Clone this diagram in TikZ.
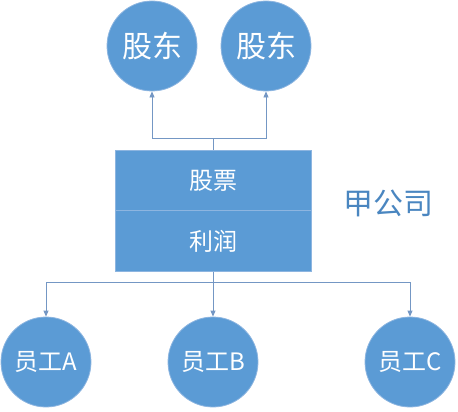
\documentclass[tikz,border=0pt]{standalone}
\usepackage{fontspec}
\setmainfont{Noto Sans CJK SC}
\usetikzlibrary{arrows.meta}
\definecolor{fillblue}{HTML}{5B9BD5}
\definecolor{rimblue}{HTML}{8DB5E0}
\definecolor{linkblue}{HTML}{7497C4}
\definecolor{labelblue}{HTML}{4A86C0}
\tikzset{
  pers/.style={circle, fill=fillblue, draw=rimblue, line width=0.8pt, minimum size=90pt, inner sep=0pt, text=white},
  link/.style={draw=linkblue, line width=0.8pt},
  arr/.style={link, -{Triangle[length=6pt,width=5pt]}},
  cell/.style={rectangle, fill=fillblue, draw=rimblue, line width=0.6pt, minimum width=196pt, minimum height=60.5pt, inner sep=0pt, text=white, font=\fontsize{24}{27}\selectfont}
}
\begin{document}
\begin{tikzpicture}[x=1pt,y=-1pt]
\useasboundingbox (0,0) rectangle (458,412);
% top shareholders
\node[pers, font=\fontsize{30}{33}\selectfont] (s1) at (152,46) {股东};
\node[pers, font=\fontsize{30}{33}\selectfont] (s2) at (266,46) {股东};
% company box
\node[cell] (stock) at (213,180.5) {股票};
\node[cell] (profit) at (213,241) {利润};
\node[text=labelblue, font=\fontsize{30}{33}\selectfont, anchor=center] (co) at (388,203) {甲公司};
% employees
\node[pers, font=\fontsize{24}{27}\selectfont] (e1) at (46,362) {员工A};
\node[pers, font=\fontsize{24}{27}\selectfont] (e2) at (213,362) {员工B};
\node[pers, font=\fontsize{24}{27}\selectfont] (e3) at (410,362) {员工C};
% upper connectors
\coordinate (tj) at (213,138);
\draw[link] (stock.north) -- (tj);
\draw[arr] (tj) -| (s1.south);
\draw[arr] (tj) -| (s2.south);
% lower connectors
\coordinate (bj) at (213,282);
\draw[link] (profit.south) -- (bj);
\draw[arr] (bj) -| (e1.north);
\draw[arr] (bj) -- (e2.north);
\draw[arr] (bj) -| (e3.north);
\end{tikzpicture}
\end{document}
